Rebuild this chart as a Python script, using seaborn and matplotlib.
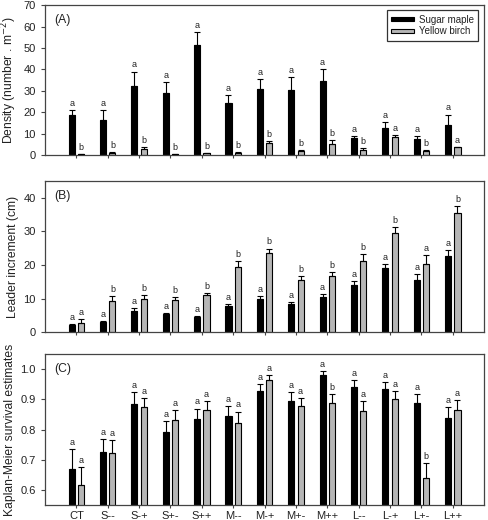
import numpy as np
import pandas as pd
import matplotlib
matplotlib.use("Agg")
import matplotlib.pyplot as plt
import seaborn as sns

# treatments (x axis)
treatments = ["CT", "S--", "S-+", "S+-", "S++", "M--", "M-+", "M+-", "M++",
              "L--", "L-+", "L+-", "L++"]
species = ["Sugar maple", "Yellow birch"]

# (A) density, number per m2 : mean and top of error bar
dens_maple = [18.7, 16.4, 32.2, 29.1, 51.3, 24.2, 30.9, 30.5, 34.7, 7.7, 12.7, 7.3, 13.9]
dens_maple_top = [21.1, 21.1, 39.0, 34.2, 57.5, 28.0, 35.3, 36.6, 40.2, 8.9, 15.6, 8.9, 18.9]
dens_birch = [0.3, 1.0, 2.8, 0.4, 0.8, 1.0, 5.5, 2.0, 5.2, 2.3, 8.4, 1.9, 3.6]
dens_birch_top = [0.4, 1.3, 3.8, 0.6, 1.1, 1.3, 6.7, 2.5, 6.9, 3.1, 9.4, 2.2, 3.9]
dens_letters_maple = ["a"] * 13
dens_letters_birch = ["b", "b", "b", "b", "b", "b", "b", "b", "b", "b", "a", "b", "a"]

# (B) leader increment, cm
lead_maple = [2.0, 3.0, 6.4, 5.3, 4.6, 7.8, 9.9, 8.3, 10.5, 14.1, 19.2, 15.4, 22.8]
lead_maple_top = [2.3, 3.2, 7.1, 5.8, 4.9, 8.3, 10.7, 8.9, 11.4, 15.2, 20.4, 17.4, 24.5]
lead_birch = [2.8, 9.4, 10.0, 9.5, 10.9, 19.5, 23.7, 15.4, 16.8, 21.3, 29.6, 20.4, 35.4]
lead_birch_top = [3.8, 10.8, 10.9, 10.4, 11.5, 21.3, 24.9, 16.7, 18.0, 23.2, 31.3, 23.1, 37.5]
lead_letters_maple = ["a"] * 13
lead_letters_birch = ["a", "b", "b", "b", "b", "b", "b", "b", "b", "b", "b", "a", "b"]

# (C) Kaplan-Meier survival estimates
surv_maple = [0.668, 0.726, 0.885, 0.791, 0.836, 0.844, 0.927, 0.896, 0.981, 0.941, 0.936, 0.887, 0.840]
surv_maple_top = [0.737, 0.768, 0.924, 0.829, 0.870, 0.878, 0.952, 0.925, 0.994, 0.964, 0.959, 0.919, 0.875]
surv_birch = [0.615, 0.722, 0.875, 0.832, 0.864, 0.823, 0.964, 0.878, 0.888, 0.863, 0.901, 0.640, 0.865]
surv_birch_top = [0.677, 0.764, 0.905, 0.865, 0.895, 0.860, 0.981, 0.905, 0.918, 0.896, 0.928, 0.688, 0.899]
surv_letters_maple = ["a"] * 13
surv_letters_birch = ["a", "a", "a", "a", "a", "a", "a", "a", "b", "a", "a", "b", "a"]

sns.set_style("ticks")
plt.rcParams.update({
    "font.family": ["Liberation Sans", "DejaVu Sans"],
    "font.size": 8,
    "axes.edgecolor": "#444444",
    "axes.linewidth": 0.9,
    "xtick.color": "#444444",
    "ytick.color": "#444444",
    "xtick.labelcolor": "#222222",
    "ytick.labelcolor": "#222222",
    "xtick.major.size": 2.5,
    "xtick.major.pad": 1.5,
    "ytick.major.size": 3,
    "xtick.labelsize": 8,
    "ytick.labelsize": 8,
})

colors = ["black", "#b6b6b6"]


def long_table(m, b):
    return pd.DataFrame({
        "treatment": treatments * 2,
        "species": [species[0]] * 13 + [species[1]] * 13,
        "value": list(m) + list(b),
    })


def panel(ax, m, mt, b, bt, lm, lb, ylim, yticks, ylabel, tag, show_x=False, legend=False):
    df = long_table(m, b)
    sns.barplot(data=df, x="treatment", y="value", hue="species", order=treatments,
                hue_order=species, palette=colors, width=0.6, gap=0.35,
                edgecolor="black", linewidth=0.8, errorbar=None,
                legend=legend, ax=ax, zorder=2)
    tops = [mt, bt]
    letters = [lm, lb]
    vals = [m, b]
    bar_sets = list(ax.containers)[:2]
    for k, cont in enumerate(bar_sets):
        for j, bar in enumerate(cont):
            xc = bar.get_x() + bar.get_width() / 2
            up = tops[k][j] - vals[k][j]
            ax.errorbar(xc, vals[k][j], yerr=[[0], [up]], fmt="none", ecolor="black",
                        elinewidth=0.8, capsize=2.2, capthick=0.8, zorder=3)
            ax.annotate(letters[k][j], (xc, tops[k][j]), xytext=(0, 1.5),
                        textcoords="offset points", ha="center", va="bottom",
                        fontsize=6.5, color="#222222")
    ax.set_xlim(-1, 13)
    ax.set_ylim(*ylim)
    ax.set_yticks(yticks)
    ax.set_xlabel("")
    ax.set_ylabel(ylabel, fontsize=8.7, color="#222222", labelpad=3)
    if not show_x:
        ax.set_xticklabels([])
    ax.text(0.022, 0.94, tag, transform=ax.transAxes, fontsize=8.7, va="top", color="#222222")
    if legend:
        leg = ax.legend(loc="upper right", fontsize=7, frameon=True, fancybox=False,
                        edgecolor="black", handlelength=2.3, handleheight=0.4,
                        borderpad=0.45, labelspacing=0.2, handletextpad=0.5,
                        borderaxespad=0, bbox_to_anchor=(0.986, 0.967))
        leg.get_frame().set_linewidth(0.9)
        for t in leg.get_texts():
            t.set_color("#222222")


fig = plt.figure(figsize=(4.89, 5.2), dpi=100)
axA = fig.add_axes([0.092, 0.702, 0.898, 0.288])
axB = fig.add_axes([0.092, 0.3615, 0.898, 0.290])
axC = fig.add_axes([0.092, 0.0288, 0.898, 0.290])

panel(axA, dens_maple, dens_maple_top, dens_birch, dens_birch_top,
      dens_letters_maple, dens_letters_birch, (0, 70), np.arange(0, 71, 10),
      "Density (number . m$^{-2}$)", "(A)", legend=True)
panel(axB, lead_maple, lead_maple_top, lead_birch, lead_birch_top,
      lead_letters_maple, lead_letters_birch, (0, 45), np.arange(0, 41, 10),
      "Leader increment (cm)", "(B)")
panel(axC, surv_maple, surv_maple_top, surv_birch, surv_birch_top,
      surv_letters_maple, surv_letters_birch, (0.55, 1.05), [0.6, 0.7, 0.8, 0.9, 1.0],
      "Kaplan-Meier survival estimates", "(C)", show_x=True)
axC.set_yticklabels(["0.6", "0.7", "0.8", "0.9", "1.0"])

fig.align_ylabels([axA, axB, axC])
fig.savefig("out.png", dpi=100)
